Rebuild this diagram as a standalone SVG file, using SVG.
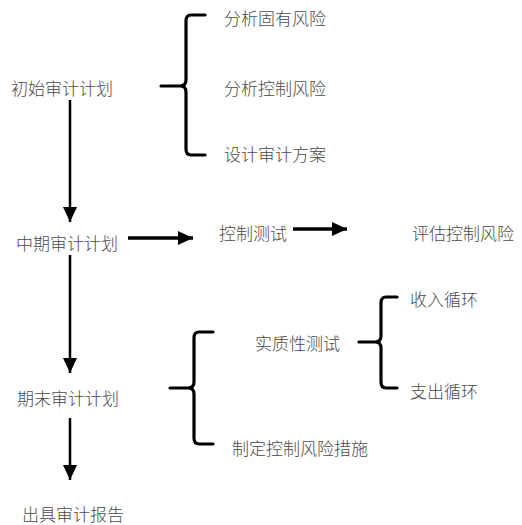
<svg xmlns="http://www.w3.org/2000/svg" width="522" height="525" viewBox="0 0 522 525">
<defs>
<style>
text{font-family:"Noto Sans CJK SC","Noto Sans CJK JP",sans-serif;font-size:17px;font-weight:300;fill:#4a4a4a;dominant-baseline:central}
.ln{stroke:#000;stroke-width:2.5;fill:none}
.lh{stroke:#000;stroke-width:3.5;fill:none}
.br{stroke:#000;stroke-width:3.2;fill:none;stroke-linecap:round;stroke-linejoin:round}
</style>
<marker id="ah" markerUnits="userSpaceOnUse" markerWidth="16" markerHeight="16" viewBox="0 0 16 16" refX="15" refY="8" orient="auto">
<path d="M0,1 L15,8 L0,15 Z" fill="#000"/>
</marker>
</defs>
<rect width="522" height="525" fill="#fff"/>
<g id="n1"><text x="11" y="87">初始审计计划</text></g>
<g id="n2"><text x="224" y="17">分析固有风险</text></g>
<g id="n3"><text x="224" y="87">分析控制风险</text></g>
<g id="n4"><text x="224" y="153">设计审计方案</text></g>
<g id="n5"><text x="16" y="242">中期审计计划</text></g>
<g id="n6"><text x="219" y="232">控制测试</text></g>
<g id="n7"><text x="412" y="232">评估控制风险</text></g>
<g id="n8"><text x="17" y="397">期末审计计划</text></g>
<g id="n9"><text x="255" y="342">实质性测试</text></g>
<g id="n10"><text x="410" y="298">收入循环</text></g>
<g id="n11"><text x="410" y="390">支出循环</text></g>
<g id="n12"><text x="232" y="447">制定控制风险措施</text></g>
<g id="n13"><text x="22" y="513">出具审计报告</text></g>
<g id="connectors">
<path class="ln" d="M70,100 V222" marker-end="url(#ah)"/>
<path class="ln" d="M70,255 V373" marker-end="url(#ah)"/>
<path class="ln" d="M70,418 V480" marker-end="url(#ah)"/>
<path class="lh" d="M128,238 H193" marker-end="url(#ah)"/>
<path class="lh" d="M293,229 H347" marker-end="url(#ah)"/>
<path class="br" d="M205,15 H191 Q186,15 186,21 V80 Q186,86 180,86 H161 M180,86 Q186,86 186,92 V149 Q186,155 191,155 H205"/>
<path class="br" d="M213,332 H199 Q194,332 194,338 V382 Q194,388 188,388 H170 M188,388 Q194,388 194,394 V438 Q194,444 199,444 H213"/>
<path class="br" d="M397,297 H386 Q381,297 381,303 V336 Q381,342 375,342 H359 M375,342 Q381,342 381,348 V382 Q381,388 386,388 H397"/>
</g>
</svg>
